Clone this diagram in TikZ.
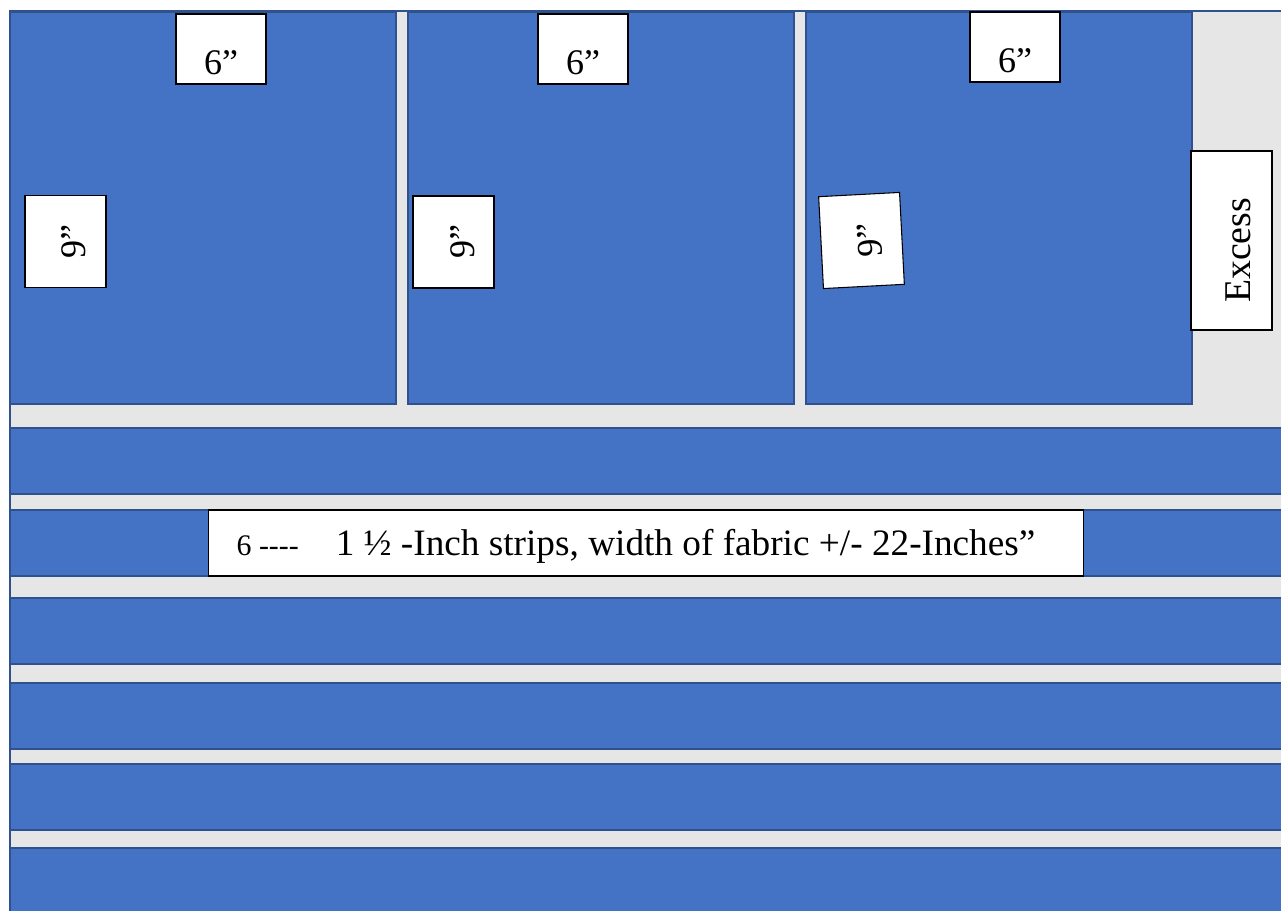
\documentclass[tikz,border=0pt]{standalone}
\usepackage{fontspec}
\setmainfont{Liberation Serif}
\definecolor{fabricblue}{HTML}{4472C4}
\definecolor{edgeblue}{HTML}{2F528F}
\definecolor{scrapgray}{HTML}{E6E6E6}
\tikzset{
  piece/.style={fill=fabricblue, draw=edgeblue, line width=0.85pt},
  tag/.style={draw=black, fill=white, line width=0.6pt, inner sep=0pt, text depth=0pt},
  sixtag/.style={tag, minimum width=1.8cm, minimum height=1.4cm, text height=1.04cm,
    font=\fontsize{20.5}{24}\selectfont},
  ninetag/.style={tag, minimum width=1.84cm, minimum height=1.62cm, text height=0.82cm,
    font=\fontsize{20.5}{24}\selectfont},
}
\begin{document}
\begin{tikzpicture}[x=0.02cm,y=-0.02cm]
\useasboundingbox (0,0) rectangle (1281,911);
\clip (0,0) rectangle (1281,911);
% fabric
\fill[scrapgray, draw=edgeblue, line width=0.85pt] (10,11) rectangle (1300,930);
% squares
\foreach \l in {10,408,806}
  \draw[piece] (\l,12) rectangle ++(386,392);
% strips
\foreach \t in {428,510,598,683,764,848}
  \draw[piece] (10,\t) rectangle (1300,\t+66);
% labels
\node[sixtag] (sixA) at (221,49) {6”};
\node[sixtag] (sixB) at (583,49) {6”};
\node[sixtag] (sixC) at (1015,47) {6”};
\node[ninetag, rotate=90] (nineA) at (65.5,241.5) {9”};
\node[ninetag, rotate=90] (nineB) at (453.5,242) {9”};
\node[ninetag, rotate=93] (nineC) at (861.5,240.5) {9”};
\node[tag, rotate=90, minimum width=3.58cm, minimum height=1.62cm, text height=0.74cm,
  font=\fontsize{21.5}{25}\selectfont] (excess) at (1231.5,240.5) {Excess\kern0.4cm};
\node[tag, minimum width=17.52cm, minimum height=1.32cm, text height=0.52cm,
  font=\fontsize{21.2}{25}\selectfont] (strips) at (646,543)
  {{\fontsize{17}{20}\selectfont 6 -{}-{}-{}-}\hspace{0.74cm}1 ½ -Inch strips, width of fabric +/- 22-Inches”\kern0.4cm};
\end{tikzpicture}
\end{document}
